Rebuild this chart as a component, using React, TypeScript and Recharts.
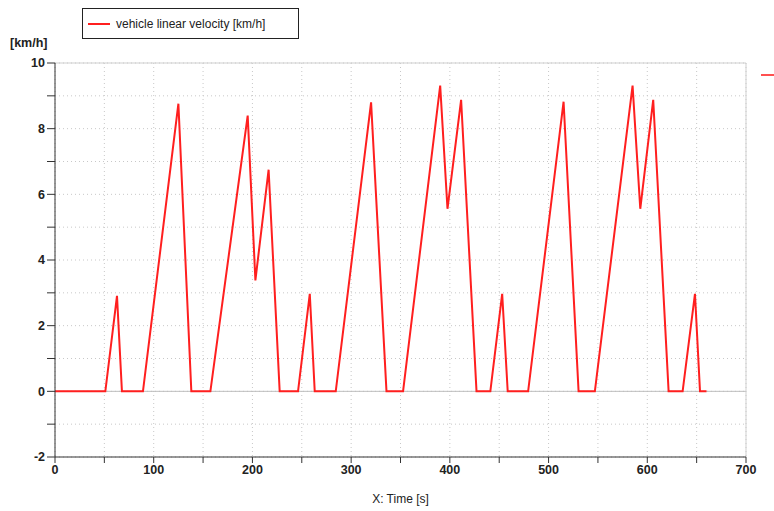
import {
  LineChart, Line, XAxis, YAxis, CartesianGrid, ReferenceLine,
} from "recharts";

const TIME = [
  0, 51, 62.8, 67.8, 89.1, 125, 138.1, 157.4, 195.2, 203, 216.4, 227.6, 246.2,
  258.1, 263.1, 284.4, 320.2, 335.8, 352.6, 390.2, 397.6, 411.4, 427, 441,
  453, 458.6, 479.3, 515.2, 530.4, 546.9, 585.1, 592.9, 606, 621.6, 635.8,
  648.3, 653.4, 660,
];
const VELOCITY = [
  0, 0, 2.91, 0, 0, 8.76, 0, 0, 8.4, 3.38, 6.75, 0, 0,
  2.97, 0, 0, 8.8, 0, 0, 9.31, 5.56, 8.88, 0, 0,
  2.97, 0, 0, 8.82, 0, 0, 9.31, 5.56, 8.88, 0, 0,
  2.97, 0, 0,
];
const X_TICKS = [0, 50, 100, 150, 200, 250, 300, 350, 400, 450, 500, 550, 600, 650, 700];
const Y_TICKS = [-2, -1, 0, 1, 2, 3, 4, 5, 6, 7, 8, 9, 10];
const SERIES_NAME = "vehicle linear velocity [km/h]";

const data = TIME.map((t, i) => ({ t, v: VELOCITY[i] }));

const FONT = "'Liberation Sans', Arial, sans-serif";
const AXIS = "#333";
const RED = "#ff1f1f";

export default function App() {
  return (
    <div style={{ position: "absolute", left: 0, top: 0, width: 774, height: 511, background: "#fff", fontFamily: FONT }}>
      <LineChart width={774} height={511} data={data} margin={{ top: 63, right: 28, bottom: 24, left: 5 }}>
        <CartesianGrid strokeDasharray="1 3" stroke="#c8c8c8" />
        <XAxis
          dataKey="t"
          type="number"
          domain={[0, 700]}
          ticks={X_TICKS}
          tickFormatter={(v: number) => (v % 100 === 0 ? String(v) : "")}
          tick={{ fontSize: 12.5, fontWeight: "bold", fill: "#222", fontFamily: FONT }}
          stroke={AXIS}
          tickSize={6}
          height={30}
          label={{ value: "X: Time [s]", position: "insideBottom", offset: -16, fontSize: 12, fill: "#222", fontFamily: FONT }}
        />
        <YAxis
          type="number"
          domain={[-2, 10]}
          ticks={Y_TICKS}
          interval={0}
          tickFormatter={(v: number) => (v % 2 === 0 ? String(v) : "")}
          tick={{ fontSize: 12.5, fontWeight: "bold", fill: "#222", fontFamily: FONT }}
          stroke={AXIS}
          tickSize={8}
          width={50}
        />
        <ReferenceLine y={0} stroke="#bdbdbd" />
        <ReferenceLine y={10} stroke="#cfcfcf" />
        <ReferenceLine x={700} stroke="#cfcfcf" />
        <Line
          type="linear"
          dataKey="v"
          name={SERIES_NAME}
          stroke={RED}
          strokeWidth={2}
          dot={false}
          isAnimationActive={false}
        />
      </LineChart>
      <div
        style={{
          position: "absolute", left: 82, top: 8, display: "flex", alignItems: "center",
          border: "1px solid #222", background: "#fff", height: 31, width: 217,
          boxSizing: "border-box", fontSize: 12, color: "#222",
        }}
      >
        <span style={{ display: "inline-block", width: 22, height: 2, background: RED, margin: "0 6px 0 5px" }} />
        {SERIES_NAME}
      </div>
      <div style={{ position: "absolute", left: 10, top: 36, fontSize: 12.5, fontWeight: "bold", color: "#222" }}>[km/h]</div>
      <div style={{ position: "absolute", left: 761, top: 74, width: 13, height: 2, background: "#ff5050" }} />
    </div>
  );
}
